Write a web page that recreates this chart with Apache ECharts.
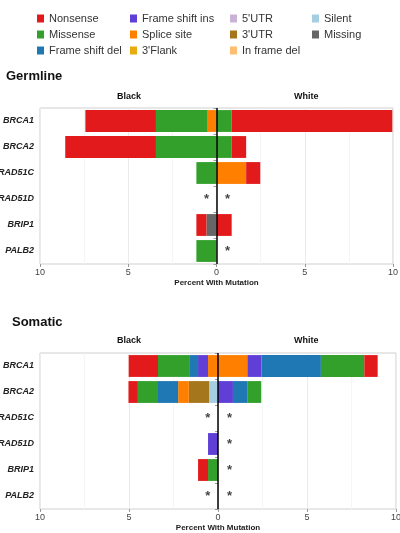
<!DOCTYPE html>
<html>
<head>
<meta charset="utf-8">
<script src="https://cdn.jsdelivr.net/npm/echarts@6/dist/echarts.min.js"></script>
<style>
  html, body { margin: 0; padding: 0; background: #fff; }
  #chart { width: 400px; height: 533px; }
</style>
</head>
<body>
<div id="chart"></div>
<script>
  // genes, top to bottom
  const GENES = ['BRCA1', 'BRCA2', 'RAD51C', 'RAD51D', 'BRIP1', 'PALB2']

  // mutation types in stacking order (center outward)
  const TYPES = ['Silent', 'Missing', "3'UTR", 'Splice site', 'Frame shift ins', 'Frame shift del', 'Missense', 'Nonsense', "5'UTR", "3'Flank", 'In frame del']
  const COLORS = {
    'Nonsense': '#e31a1c',
    'Missense': '#33a02c',
    'Frame shift del': '#1f78b4',
    'Frame shift ins': '#5f3fd6',
    'Splice site': '#ff7f00',
    "3'Flank": '#e8ac10',
    "5'UTR": '#cab2d6',
    "3'UTR": '#a6761d',
    'In frame del': '#fdbf6f',
    'Silent': '#a6cee3',
    'Missing': '#666666'
  }

  // percent with mutation, per gene (BRCA1..PALB2); Black plotted to the left
  const GERM_BLACK = {
    'Splice site': [0.5, 0, 0, 0, 0, 0],
    'Missense': [2.93, 3.43, 1.14, 0, 0, 1.14],
    'Nonsense': [4.0, 5.14, 0, 0, 0.57, 0],
    'Missing': [0, 0, 0, 0, 0.57, 0]
  }
  const GERM_WHITE = {
    'Missense': [0.86, 0.86, 0, 0, 0, 0],
    'Nonsense': [9.1, 0.82, 0.8, 0, 0.86, 0],
    'Splice site': [0, 0, 1.68, 0, 0, 0]
  }
  const SOM_BLACK = {
    'Silent': [0, 0.5, 0, 0, 0, 0],
    "3'UTR": [0, 1.14, 0, 0, 0, 0],
    'Splice site': [0.56, 0.6, 0, 0, 0, 0],
    'Frame shift ins': [0.56, 0, 0, 0.56, 0, 0],
    'Frame shift del': [0.5, 1.13, 0, 0, 0, 0],
    'Missense': [1.75, 1.13, 0, 0, 0.56, 0],
    'Nonsense': [1.65, 0.53, 0, 0, 0.56, 0]
  }
  const SOM_WHITE = {
    'Splice site': [1.65, 0, 0, 0, 0, 0],
    'Frame shift ins': [0.79, 0.84, 0, 0, 0, 0],
    'Frame shift del': [3.34, 0.8, 0, 0, 0, 0],
    'Missense': [2.44, 0.79, 0, 0, 0, 0],
    'Nonsense': [0.75, 0, 0, 0, 0, 0]
  }

  // genes without data shown as asterisks: [side value, gene]
  const GERM_STARS = [[-0.57, 'RAD51D'], [0.63, 'RAD51D'], [0.63, 'PALB2']]
  const SOM_STARS = [[-0.57, 'RAD51C'], [0.65, 'RAD51C'], [0.65, 'RAD51D'], [0.65, 'BRIP1'], [-0.57, 'PALB2'], [0.65, 'PALB2']]

  const LEGEND_COLS = [
    ['Nonsense', 'Missense', 'Frame shift del'],
    ['Frame shift ins', 'Splice site', "3'Flank"],
    ["5'UTR", "3'UTR", 'In frame del'],
    ['Silent', 'Missing']
  ]
  const LEGEND_X = [32, 125, 225, 307]

  const FONT = 'Liberation Sans, Arial, sans-serif'

  // two stacks per panel: negative (Black) and positive (White), overlapping on one row
  function buildPanelSeries (idx, black, white) {
    const out = []
    TYPES.forEach(type => {
      const b = black[type] || [0, 0, 0, 0, 0, 0]
      const w = white[type] || [0, 0, 0, 0, 0, 0]
      out.push({
        name: type, type: 'bar', stack: 'b' + idx, xAxisIndex: idx, yAxisIndex: idx,
        barWidth: '84%', barGap: '-100%', itemStyle: { color: COLORS[type] },
        data: b.map(v => (v ? -v : null))
      })
      out.push({
        name: type, type: 'bar', stack: 'w' + idx, xAxisIndex: idx, yAxisIndex: idx,
        barWidth: '84%', barGap: '-100%', itemStyle: { color: COLORS[type] },
        data: w.map(v => (v ? v : null))
      })
    })
    return out
  }

  function starSeries (idx, stars) {
    return {
      type: 'scatter', xAxisIndex: idx, yAxisIndex: idx, symbolSize: 0, silent: true,
      data: stars,
      label: { show: true, position: 'inside', formatter: '*', fontSize: 13, fontWeight: 'bold', color: '#111', fontFamily: FONT },
      markLine: {
        symbol: 'none', silent: true, label: { show: false },
        lineStyle: { color: '#000', width: 1.5, type: 'solid' },
        data: [{ xAxis: 0 }]
      }
    }
  }

  function xAxis (idx) {
    return {
      gridIndex: idx, type: 'value', min: -10, max: 10, interval: 5,
      name: 'Percent With Mutation', nameLocation: 'middle', nameGap: 15,
      nameTextStyle: { fontSize: 8, fontWeight: 'bold', color: '#222', fontFamily: FONT },
      axisLine: { show: false },
      axisTick: { show: true, length: 3, lineStyle: { color: '#999' } },
      axisLabel: { fontSize: 9, color: '#444', margin: 4, formatter: v => String(Math.abs(v)), fontFamily: FONT },
      splitLine: { lineStyle: { color: '#ebebeb' } },
      minorTick: { show: false, splitNumber: 2 },
      minorSplitLine: { show: true, lineStyle: { color: '#f5f5f5' } }
    }
  }

  function yAxis (idx) {
    return {
      gridIndex: idx, type: 'category', data: GENES, inverse: true,
      axisLine: { show: false },
      axisTick: { show: true, length: 3, lineStyle: { color: '#999' } },
      axisLabel: { fontSize: 9, fontWeight: 'bold', fontStyle: 'italic', color: '#222', margin: 6, fontFamily: FONT },
      splitLine: { show: false }
    }
  }

  function text (x, y, str, size, align) {
    return {
      type: 'text', left: x, top: y,
      style: { text: str, fontSize: size, fontWeight: 'bold', fill: '#111', fontFamily: FONT, textAlign: align || 'left' }
    }
  }

  const chart = echarts.init(document.getElementById('chart'))

  chart.setOption({
    animation: false,
    legend: LEGEND_COLS.map((col, i) => ({
      data: col, orient: 'vertical', left: LEGEND_X[i], top: 8,
      itemWidth: 7, itemHeight: 8, itemGap: 5, icon: 'rect',
      selectedMode: false,
      textStyle: { fontSize: 11, color: '#333', fontFamily: FONT }
    })),
    grid: [
      { left: 40, right: 7, top: 108, height: 156, containLabel: false, outerBoundsMode: 'none', show: true, borderColor: '#cfcfcf', borderWidth: 1, backgroundColor: '#fff' },
      { left: 40, right: 4, top: 353, height: 156, containLabel: false, outerBoundsMode: 'none', show: true, borderColor: '#cfcfcf', borderWidth: 1, backgroundColor: '#fff' }
    ],
    xAxis: [xAxis(0), xAxis(1)],
    yAxis: [yAxis(0), yAxis(1)],
    graphic: [
      text(6, 70, 'Germline', 13),
      text(117, 92, 'Black', 9),
      text(294, 92, 'White', 9),
      text(12, 316, 'Somatic', 13),
      text(117, 336, 'Black', 9),
      text(294, 336, 'White', 9)
    ],
    series: buildPanelSeries(0, GERM_BLACK, GERM_WHITE)
      .concat(buildPanelSeries(1, SOM_BLACK, SOM_WHITE))
      .concat([starSeries(0, GERM_STARS), starSeries(1, SOM_STARS)])
  })
</script>
</body>
</html>
